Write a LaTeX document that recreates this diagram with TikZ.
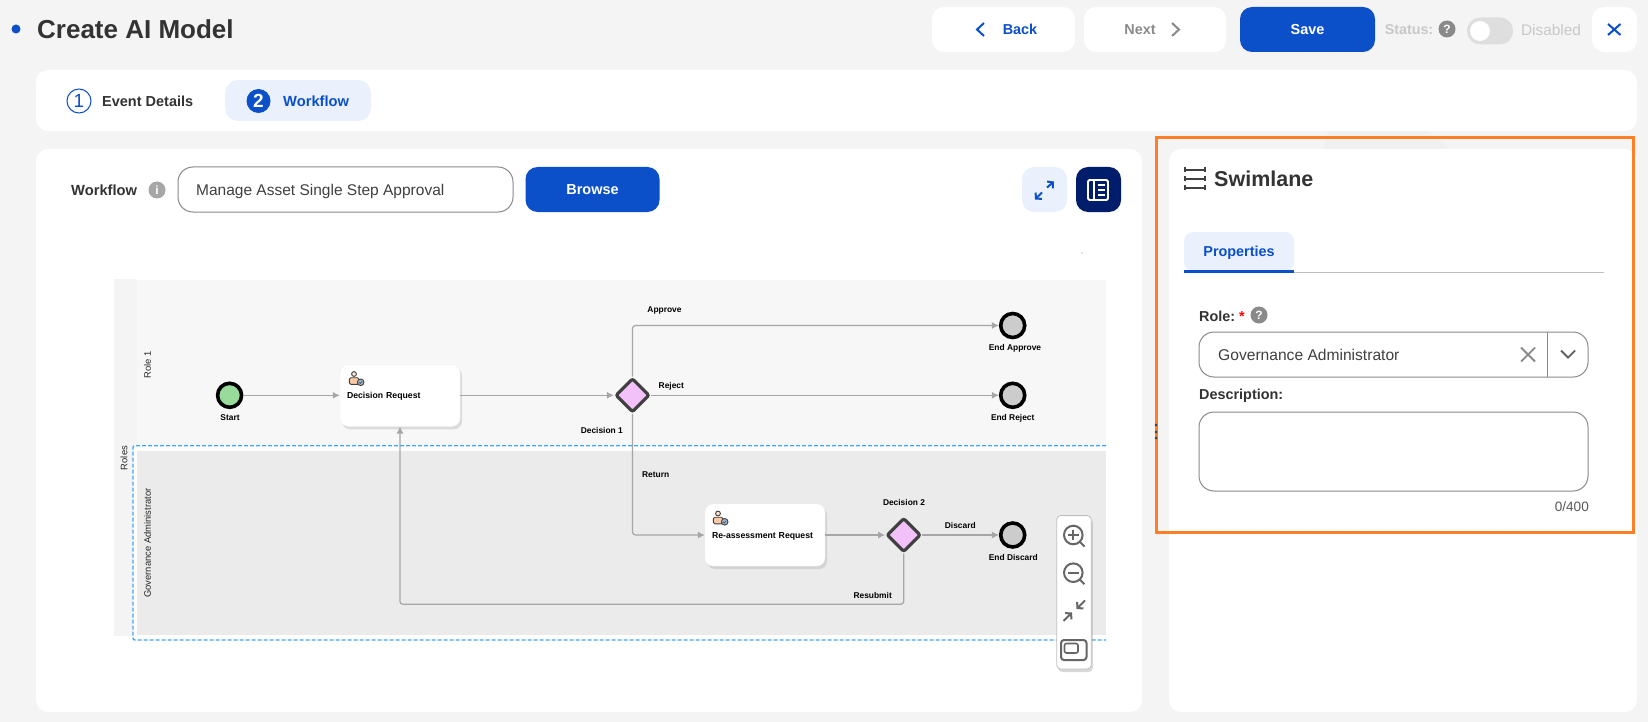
\documentclass[tikz,border=0pt]{standalone}
\usepackage{fontspec}
\setmainfont{Liberation Sans}
\usetikzlibrary{shapes.geometric,shadows,arrows.meta}
\definecolor{pagebg}{HTML}{F4F4F4}
\definecolor{pagefaint}{HTML}{F0F0F0}
\definecolor{brand}{HTML}{0B50C8}
\definecolor{navy}{HTML}{001D6C}
\definecolor{paleblue}{HTML}{EAF1FD}
\definecolor{inkdark}{HTML}{333333}
\definecolor{muted}{HTML}{8A8A8A}
\definecolor{faded}{HTML}{C8C8C8}
\definecolor{flowgray}{HTML}{A6A6A6}
\definecolor{laneone}{HTML}{F7F7F7}
\definecolor{lanetwo}{HTML}{EBEBEB}
\definecolor{startgreen}{HTML}{98DB9A}
\definecolor{endgray}{HTML}{CCCCCC}
\definecolor{gatepink}{HTML}{F2C1F9}
\definecolor{selblue}{HTML}{42A5F5}
\definecolor{markorange}{HTML}{FF7F27}
\definecolor{badgeblue}{HTML}{9DB4D0}
\definecolor{skinpeach}{HTML}{F9C9A5}

\begin{document}
\begin{tikzpicture}[
    x=1pt,y=-1pt,
    sized/.style 2 args={minimum width=#1,minimum height=#2,inner sep=0pt,outer sep=0pt},
    card/.style={rectangle,fill=white,rounded corners=12pt},
    bluebtn/.style={rectangle,fill=brand,rounded corners=12pt},
    field/.style={rectangle,draw=muted,fill=white,rounded corners=15pt,line width=1pt},
    txt/.style={inner sep=0pt,anchor=base,yshift=-0.36*#1,font=\fontsize{#1}{#1}\selectfont},
    btxt/.style={inner sep=0pt,anchor=base,yshift=-0.36*#1,font=\fontsize{#1}{#1}\selectfont\bfseries},
    lanetxt/.style={inner sep=0pt,rotate=90,font=\fontsize{9.4}{9.4}\selectfont,text=black!85},
    lbl/.style={btxt=8.4,text=black},
    hint/.style={circle,fill=#1,minimum size=17pt,inner sep=0pt,text=white,font=\fontsize{12}{12}\selectfont\bfseries},
    flow/.style={-{Latex[length=7pt,width=7pt]},draw=flowgray,line width=1.2pt,rounded corners=3pt},
    glyph/.style={-{Straight Barb[length=4pt,width=9pt]},line width=2pt},
    startev/.style={circle,draw=black,fill=startgreen,line width=3.6pt,minimum size=24pt,inner sep=0pt},
    endev/.style={circle,draw=black,fill=endgray,line width=3.6pt,minimum size=24pt,inner sep=0pt},
    gate/.style={diamond,draw=black!75,fill=gatepink,line width=3.2pt,rounded corners=2pt,minimum size=34pt,inner sep=0pt},
    task/.style={rectangle,fill=white,draw=black!6,rounded corners=8pt,minimum width=120pt,minimum height=62pt,
        text width=106pt,text height=6.3pt,text depth=0pt,inner sep=0pt,align=left,font=\fontsize{8.7}{10}\selectfont\bfseries,
        drop shadow={shadow xshift=2pt,shadow yshift=-3pt,opacity=0.22}},
    usermark/.pic={
        \draw[black!75,fill=skinpeach!50,line width=0.9pt] (-3,-4) circle (2.4);
        \draw[black!75,fill=skinpeach,line width=0.9pt,rounded corners=1.5pt] (-7.7,-0.3) rectangle (2,6.3);
        \draw[black!75,fill=badgeblue,line width=0.9pt] (3.7,4.3) circle (3.3);
        \draw[black!75,line width=0.6pt] (2.2,4.4) -- (3.3,5.5) -- (5.2,3.2);
    },
]
    \useasboundingbox (0,0) rectangle (1648,722);
    \fill[pagebg] (0,0) rectangle (1648,722);
    \fill[pagefaint] (1323,149) -- (1328,131) -- (1428,131) -- (1450,149) -- cycle;

    % header
    \node[circle,fill=brand,minimum size=9pt,inner sep=0pt] (bullet) at (16,29) {};
    \node[btxt=26,anchor=base west,text=inkdark] (title) at (37,29.5) {Create AI Model};
    \node[card,sized={143pt}{45pt}] (backbtn) at (1003.5,29.5) {};
    \node[btxt=14.4,text=brand] (backtxt) at (1020,29.5) {Back};
    \draw[brand,line width=2pt] (984,23) -- (977,29.5) -- (984,36);
    \node[card,sized={142pt}{45pt}] (nextbtn) at (1155,29.5) {};
    \node[btxt=14.4,text=muted] (nexttxt) at (1140,29.5) {Next};
    \draw[muted,line width=2pt] (1172,23) -- (1179,29.5) -- (1172,36);
    \node[bluebtn,sized={135pt}{45pt}] (savebtn) at (1307.5,29.5) {};
    \node[btxt=14.5,text=white] (savetxt) at (savebtn.center) {Save};
    \node[btxt=14.3,text=faded] (statustxt) at (1409,29.5) {Status:};
    \node[hint=muted] (statushint) at (1447,29) {?};
    \node[rectangle,fill=black!13,rounded corners=13pt,sized={46pt}{27pt}] (toggle) at (1490,31) {};
    \node[circle,fill=white,minimum size=20pt,inner sep=0pt] (knob) at (1480,31) {};
    \node[txt=15.4,text=faded] (disabledtxt) at (1551,29.5) {Disabled};
    \node[card,sized={45pt}{45pt}] (closebtn) at (1614.5,29.5) {};
    \draw[brand,line width=2pt] (1608,24) -- (1620.5,35) (1620.5,24) -- (1608,35);

    % steps
    \node[card,sized={1601pt}{61pt}] (stepbar) at (836.5,100.5) {};
    \node[circle,draw=brand,fill=white,line width=1pt,minimum size=24pt,inner sep=0pt,text=brand,font=\fontsize{19}{19}\selectfont] (stepone) at (79,101) {1};
    \node[btxt=14.5,text=inkdark,anchor=base west] (steponetxt) at (102,101) {Event Details};
    \node[rectangle,fill=paleblue,rounded corners=13pt,sized={146pt}{41pt}] (steptab) at (298,100.5) {};
    \node[circle,fill=brand,minimum size=24pt,inner sep=0pt,text=white,font=\fontsize{19}{19}\selectfont\bfseries] (steptwo) at (258.5,101) {2};
    \node[btxt=14.7,text=brand,anchor=base west] (steptwotxt) at (283,101) {Workflow};

    % workflow panel
    \node[card,sized={1106pt}{563pt}] (mainpanel) at (589,430.5) {};
    \node[btxt=14.7,text=inkdark,anchor=base west] (wftxt) at (71,190) {Workflow};
    \node[hint=black!35] (wfhint) at (157,190) {i};
    \node[field,sized={335pt}{45pt}] (wffield) at (345.5,189.5) {};
    \node[txt=15.5,text=black!75,anchor=base west] (wfvalue) at (196,190) {Manage Asset Single Step Approval};
    \node[bluebtn,sized={134pt}{45pt}] (browsebtn) at (592.5,189.5) {};
    \node[btxt=14.5,text=white] (browsetxt) at (browsebtn.center) {Browse};
    \node[rectangle,fill=paleblue,rounded corners=12pt,sized={45pt}{45pt}] (expandbtn) at (1044.5,189.5) {};
    \draw[brand,glyph] (1047,187.5) -- (1054,181.5);
    \draw[brand,glyph] (1042,192.5) -- (1035,199.5);
    \node[rectangle,fill=navy,rounded corners=12pt,sized={45pt}{45pt}] (panelbtn) at (1098.5,189.5) {};
    \draw[white,line width=1.8pt,rounded corners=1.5pt] (1088,180) rectangle (1108,200);
    \draw[white,line width=1.5pt] (1094,180) -- (1094,200);
    \foreach \ypos in {185,190,195} {
        \draw[white,line width=1.5pt] (1098,\ypos) -- (1105,\ypos);
    }
    \fill[black!40] (1082,253) circle (0.7);

    % lanes
    \fill[pagebg] (113.6,279) rectangle (137,636);
    \fill[laneone] (137,280) rectangle (1106,445);
    \fill[lanetwo] (137,450.7) rectangle (1106,635);
    \fill[white] (133,446) rectangle (137,640);
    \node[lanetxt] (rolestxt) at (124,458) {Roles};
    \node[lanetxt] (roleonetxt) at (147.5,365) {Role 1};
    \node[lanetxt] (roletwotxt) at (147.5,543) {Governance Administrator};

    % process
    \node[startev] (start) at (229.6,395.3) {};
    \node[task] (decisionreq) at (400,395.3) {Decision Request};
    \node[gate] (decisionone) at (632.5,395.3) {};
    \node[endev] (endapprove) at (1012.7,325.5) {};
    \node[endev] (endreject) at (1012.7,395.3) {};
    \node[task] (reassess) at (765,535) {Re-assessment Request};
    \node[gate] (decisiontwo) at (903.7,535) {};
    \node[endev] (enddiscard) at (1012.7,535) {};
    \coordinate (resubmitlow) at (650,604.3);
    \pic at (357,378) {usermark};
    \pic at (721,517.5) {usermark};

    \draw[flow] (start) -- (decisionreq);
    \draw[flow] (decisionreq) -- (decisionone);
    \draw[flow] (decisionone.north) |- (endapprove.west);
    \draw[flow] (decisionone) -- (endreject);
    \draw[flow] (decisionone.south) |- (reassess.west);
    \draw[flow] (reassess) -- (decisiontwo);
    \draw[flow] (decisiontwo) -- (enddiscard);
    \draw[flow] (decisiontwo.south) |- (resubmitlow) -| (decisionreq.south);

    \node[lbl] (starttxt) at (230,417.7) {Start};
    \node[lbl] (decisiononetxt) at (601.8,430.7) {Decision 1};
    \node[lbl] (approvetxt) at (664.5,309) {Approve};
    \node[lbl] (rejecttxt) at (671.3,385.7) {Reject};
    \node[lbl] (returntxt) at (655.7,474.7) {Return};
    \node[lbl] (endapprovetxt) at (1015,347.7) {End Approve};
    \node[lbl] (endrejecttxt) at (1012.7,417.7) {End Reject};
    \node[lbl] (decisiontwotxt) at (904,502.7) {Decision 2};
    \node[lbl] (discardtxt) at (960.3,525.7) {Discard};
    \node[lbl] (enddiscardtxt) at (1013.3,557.7) {End Discard};
    \node[lbl] (resubmittxt) at (872.7,595.7) {Resubmit};

    % selected lane
    \coordinate (selne) at (1106,445.7);
    \coordinate (selnw) at (133,445.7);
    \coordinate (selsw) at (133,640);
    \coordinate (selse) at (1106,640);
    \draw[selblue,line width=1.4pt,dash pattern=on 4pt off 2pt,rounded corners=2pt] (selne) -- (selnw) -- (selsw) -- (selse);

    % zoom tools
    \node[rectangle,fill=white,draw=black!25,line width=0.8pt,rounded corners=4pt,sized={34.6pt}{153.4pt},
        drop shadow={shadow xshift=1.5pt,shadow yshift=-3pt,opacity=0.3}] (zoomtools) at (1074,592.3) {};
    \draw[black!60,line width=2pt] (1073.3,535) circle (9.3) (1080,542) -- (1084.5,546.5);
    \draw[black!60,line width=2pt] (1068,535) -- (1078.6,535) (1073.3,529.7) -- (1073.3,540.3);
    \draw[black!60,line width=2pt] (1073.3,572.7) circle (9.3) (1080,579.7) -- (1084.5,584.2);
    \draw[black!60,line width=2pt] (1068,572.7) -- (1078.6,572.7);
    \draw[black!60,glyph] (1063.5,621) -- (1072,612.5);
    \draw[black!60,glyph] (1085,600.5) -- (1076.5,609);
    \draw[black!60,line width=2pt,rounded corners=3pt] (1061,640) rectangle (1086.5,660);
    \draw[black!60,line width=1.6pt,rounded corners=2pt] (1064.5,643.5) rectangle (1078,653);

    % side panel
    \node[card,sized={468pt}{563pt}] (sidepanel) at (1403,430.5) {};
    \foreach \ypos in {170,179,188} {
        \draw[black!75,line width=1.6pt] (1184,\ypos) -- (1206,\ypos);
        \draw[black!75,line width=1.6pt] (1184.8,\ypos-2.5) -- (1184.8,\ypos+2.5) (1205.2,\ypos-2.5) -- (1205.2,\ypos+2.5);
    }
    \node[btxt=21.5,text=inkdark,anchor=base west] (swimtxt) at (1214,179) {Swimlane};
    \fill[paleblue,rounded corners=9pt] (1184,271) -- (1184,232) -- (1294,232) -- (1294,271) -- cycle;
    \node[btxt=14.4,text=brand] (propstxt) at (1239,251) {Properties};
    \draw[black!25,line width=1pt] (1294,272) -- (1604,272);
    \draw[brand,line width=2.4pt] (1184,271.5) -- (1294,271.5);
    \node[btxt=14.4,text=inkdark,anchor=base west] (roletxt) at (1199,316) {Role:};
    \node[btxt=14.4,text=red] (rolestar) at (1242,316) {*};
    \node[hint=muted] (rolehint) at (1259,315) {?};
    \node[field,sized={389pt}{45pt}] (rolefield) at (1393.5,354.5) {};
    \node[txt=15.6,text=black!75,anchor=base west] (rolevalue) at (1218,355) {Governance Administrator};
    \draw[muted,line width=1pt] (1547,332) -- (1547,377);
    \draw[muted,line width=1.8pt] (1521,347.5) -- (1535,361.5) (1535,347.5) -- (1521,361.5);
    \draw[muted!70!black,line width=1.8pt] (1561,350.5) -- (1568,357.5) -- (1575,350.5);
    \node[btxt=14.4,text=inkdark,anchor=base west] (desctxt) at (1199,394) {Description:};
    \node[field,sized={389pt}{79pt}] (descfield) at (1393.5,451.5) {};
    \node[txt=13.6,text=black!65,anchor=base east] (counttxt) at (1589,507) {0/400};

    % highlight
    \node[rectangle,draw=markorange,line width=3pt,sized={477pt}{395pt}] (highlight) at (1395,335) {};
    \foreach \ypos in {425,432,438} {
        \fill[black!75] (1156,\ypos) circle (1.5);
    }
\end{tikzpicture}
\end{document}
